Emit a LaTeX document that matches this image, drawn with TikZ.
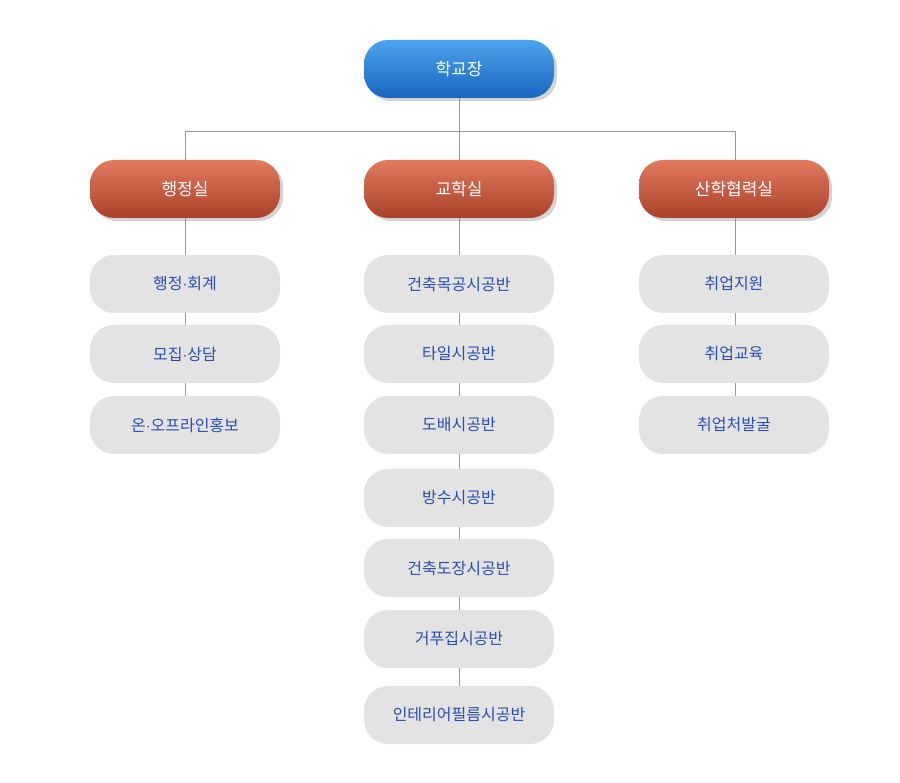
\documentclass[tikz,border=0pt]{standalone}
\usepackage{fontspec}
\setmainfont{Noto Sans CJK KR}
\usetikzlibrary{shadows}
\definecolor{headtop}{HTML}{4DA3EE}
\definecolor{headbot}{HTML}{1866BE}
\definecolor{deptop}{HTML}{E27A60}
\definecolor{depbot}{HTML}{A9412A}
\definecolor{unitfill}{HTML}{E3E3E3}
\definecolor{unittext}{HTML}{2A4DB0}
\tikzset{
  box/.style={minimum width=190pt,minimum height=58pt,rounded corners=24pt,inner sep=0pt},
  headbox/.style={box,top color=headtop,bottom color=headbot,text=white,font=\fontsize{17pt}{19pt}\selectfont,
    drop shadow={shadow xshift=3pt,shadow yshift=-3pt,opacity=0.35}},
  deptbox/.style={box,top color=deptop,bottom color=depbot,text=white,font=\fontsize{17pt}{19pt}\selectfont,
    drop shadow={shadow xshift=3pt,shadow yshift=-3pt,opacity=0.35}},
  unitbox/.style={box,fill=unitfill,text=unittext,font=\fontsize{16pt}{18pt}\selectfont},
  link/.style={draw=gray!80,line width=0.7pt}
}
\begin{document}
\begin{tikzpicture}[x=1pt,y=-1pt]
\useasboundingbox (0,0) rectangle (900,783);
% connectors first
\coordinate (bus) at (459,131);
\draw[link] (459,69) -- (bus);
\draw[link] (185,131) -- (735,131);
\draw[link] (185,131) -- (185,425);
\draw[link] (459,131) -- (459,715);
\draw[link] (735,131) -- (735,425);
% nodes
\node[headbox] (head) at (459,69) {학교장};
\node[deptbox] (admin) at (185,189) {행정실};
\node[deptbox] (acad) at (459,189) {교학실};
\node[deptbox] (indus) at (734,189) {산학협력실};
\node[unitbox] (a1) at (185,284) {행정$\cdot$회계};
\node[unitbox] (a2) at (185,354) {모집$\cdot$상담};
\node[unitbox] (a3) at (185,425) {온$\cdot$오프라인홍보};
\node[unitbox] (b1) at (459,284) {건축목공시공반};
\node[unitbox] (b2) at (459,354) {타일시공반};
\node[unitbox] (b3) at (459,425) {도배시공반};
\node[unitbox] (b4) at (459,498) {방수시공반};
\node[unitbox] (b5) at (459,568) {건축도장시공반};
\node[unitbox] (b6) at (459,639) {거푸집시공반};
\node[unitbox] (b7) at (459,715) {인테리어필름시공반};
\node[unitbox] (c1) at (734,284) {취업지원};
\node[unitbox] (c2) at (734,354) {취업교육};
\node[unitbox] (c3) at (734,425) {취업처발굴};
\end{tikzpicture}
\end{document}
